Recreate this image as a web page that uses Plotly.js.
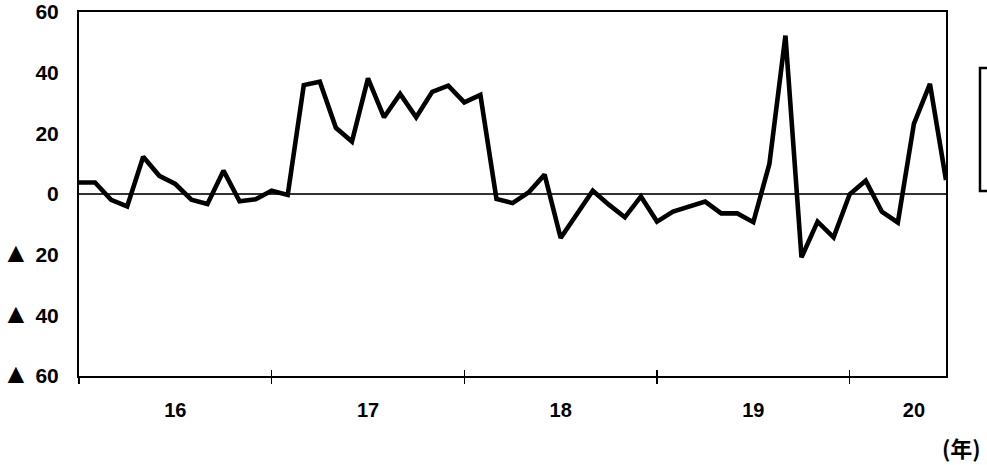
<!DOCTYPE html>
<html>
<head>
<meta charset="utf-8">
<script src="https://cdn.plot.ly/plotly-3.0.1.min.js"></script>
<style>
  html, body { margin: 0; padding: 0; background: #ffffff; }
  #chart { width: 987px; height: 465px; }
</style>
</head>
<body>
<div id="chart"></div>
<script>
// Monthly values (index 0 = first month of year 16)
const values = [
  3.8, 3.8, -1.9, -4.1, 12.3, 6.0, 3.3, -1.9, -3.3, 7.7, -2.4, -1.7,
  1.1, -0.3, 35.9, 37.0, 21.8, 17.3, 38.1, 25.3, 33.0, 25.3, 33.7, 35.7,
  30.2, 32.7, -1.6, -3.0, 0.5, 6.4, -14.5, -7.0, 1.1, -3.5, -7.7, -0.8,
  -9.1, -5.8, -4.0, -2.5, -6.4, -6.4, -9.3, 9.9, 52.2, -20.9, -9.1, -14.3,
  -0.1, 4.4, -5.8, -9.4, 23.1, 36.3, 4.6
];
const monthIndex = values.map((_, i) => i);

// Year boundaries and labels
const yearBoundaries = [0, 12, 24, 36, 48];
const yearLabelPos = [6, 18, 30, 42, 52];
const yearLabels = ['16', '17', '18', '19', '20'];

// Y axis ticks (▲ = minus sign in Japanese statistics)
const yTickVals = [60, 40, 20, 0, -20, -40, -60];
const yTickText = ['60', '40', '20', '0', '▲ 20', '▲ 40', '▲ 60'];
const yTickTextStyled = yTickText.map(t =>
  t.replace('▲', '<span style="font-size:28px">▲</span>'));

const yFont = { family: 'Liberation Sans, Arial, sans-serif', size: 21, color: '#000', weight: 'bold' };
const xFont = { family: 'Liberation Sans, Arial, sans-serif', size: 20, color: '#000', weight: 'bold' };

const trace = {
  x: monthIndex,
  y: values,
  type: 'scatter',
  mode: 'lines',
  line: { color: '#000000', width: 4.6 },
  hoverinfo: 'skip',
  showlegend: false
};
// invisible carriers so the overlay axes get drawn
const carrier2 = { x: monthIndex, y: values, xaxis: 'x2', type: 'scatter', mode: 'lines',
  line: { width: 0, color: 'rgba(0,0,0,0)' }, opacity: 0, hoverinfo: 'skip', showlegend: false };
const carrier3 = { x: monthIndex, y: values, xaxis: 'x3', type: 'scatter', mode: 'lines',
  line: { width: 0, color: 'rgba(0,0,0,0)' }, opacity: 0, hoverinfo: 'skip', showlegend: false };

const xr = [0, monthIndex.length - 1];

const layout = {
  width: 987,
  height: 465,
  margin: { l: 79, r: 41, t: 12, b: 89, pad: 0 },
  paper_bgcolor: '#ffffff',
  plot_bgcolor: '#ffffff',
  showlegend: false,
  xaxis: {
    range: xr,
    tickmode: 'array',
    tickvals: yearBoundaries,
    showticklabels: false,
    ticks: 'outside',
    ticklen: 6,
    tickwidth: 1.5,
    tickcolor: '#000',
    showgrid: false,
    zeroline: false,
    showline: true,
    linecolor: '#000',
    linewidth: 2,
    mirror: true,
    fixedrange: true
  },
  xaxis2: {
    overlaying: 'x',
    anchor: 'y',
    side: 'bottom',
    range: xr,
    tickmode: 'array',
    tickvals: yearBoundaries.slice(1),
    showticklabels: false,
    ticks: 'inside',
    ticklen: 6,
    tickwidth: 1.5,
    tickcolor: '#000',
    showgrid: false,
    zeroline: false,
    showline: false
  },
  xaxis3: {
    overlaying: 'x',
    anchor: 'y',
    side: 'bottom',
    range: xr,
    tickmode: 'array',
    tickvals: yearLabelPos,
    ticktext: yearLabels,
    ticks: '',
    ticklabelstandoff: 20,
    tickfont: xFont,
    showgrid: false,
    zeroline: false,
    showline: false
  },
  yaxis: {
    range: [-60, 60],
    tickmode: 'array',
    tickvals: yTickVals,
    ticktext: yTickTextStyled,
    ticks: '',
    ticklabelstandoff: 14,
    tickfont: yFont,
    showgrid: false,
    zeroline: true,
    zerolinecolor: '#333',
    zerolinewidth: 1.2,
    showline: true,
    linecolor: '#000',
    linewidth: 2,
    mirror: true,
    fixedrange: true
  },
  shapes: [
    {
      type: 'rect', xref: 'paper', yref: 'paper',
      x0: 1.0392, x1: 1.08, y0: 0.508, y1: 0.846,
      line: { color: '#000', width: 2.5 },
      fillcolor: 'rgba(0,0,0,0)'
    }
  ],
  annotations: [
    {
      text: '(年)', xref: 'paper', yref: 'paper',
      x: 1.018, y: -0.195, xanchor: 'center', yanchor: 'middle',
      showarrow: false,
      font: { family: 'Noto Sans CJK JP, sans-serif', size: 22, color: '#000', weight: 'bold' }
    }
  ]
};

Plotly.newPlot('chart', [carrier2, carrier3, trace], layout, { staticPlot: true, displayModeBar: false });
</script>
</body>
</html>
